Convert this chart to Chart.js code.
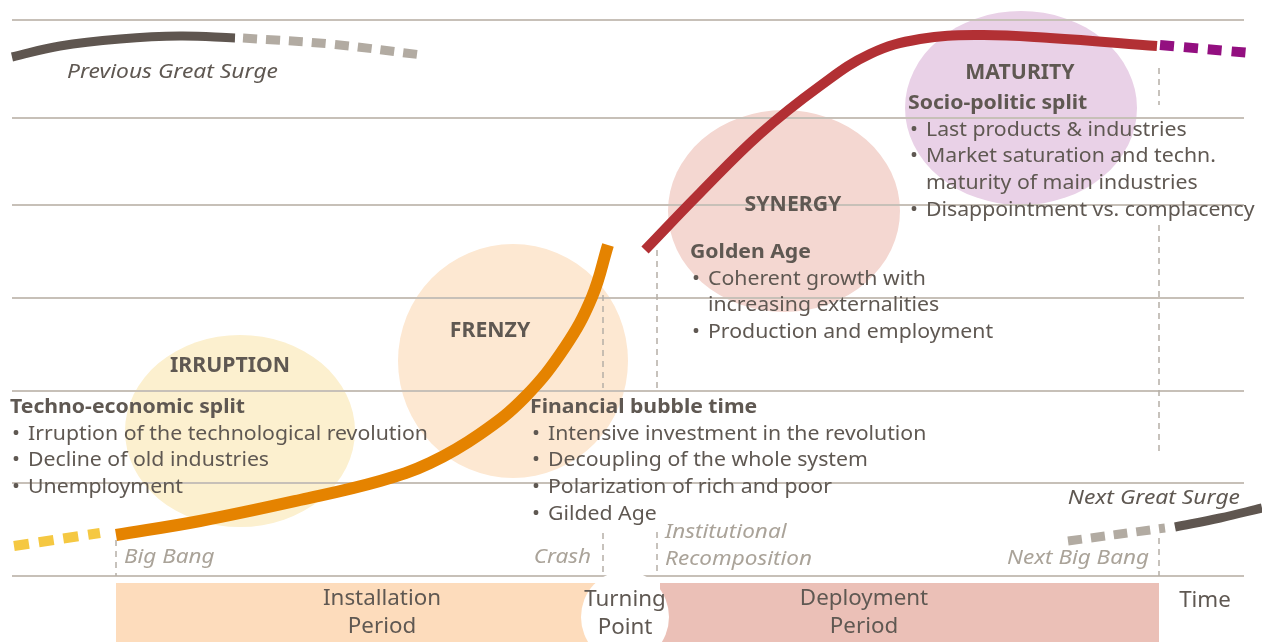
<!DOCTYPE html>
<html>
<head>
<meta charset="utf-8">
<script src="https://cdn.jsdelivr.net/npm/chart.js@4.4.1/dist/chart.umd.min.js"></script>
<style>
  html, body { margin: 0; padding: 0; background: #fff; }
  #wrap { width: 1262px; height: 642px; }
</style>
</head>
<body>
<div id="wrap"><canvas id="chartarea"></canvas></div>
<script>
// level lines across the diagram (y grows downward)
var gridLevels = [20, 118, 205, 298, 391, 483, 576];

// surge curves, [time, level]
var prevSurge     = [[12, 57], [60, 46], [120, 39], [180, 36], [235, 38]];
var prevSurgeTail = [[243, 38], [330, 44], [422, 55]];
var startLead     = [[14, 546], [100, 533]];
var installCurve  = [[116, 535], [200, 521], [300, 500], [380, 481], [430, 463], [480, 434], [525, 397], [565, 347], [592, 297], [608, 245]];
var deployCurve   = [[645, 250], [700, 193], [760, 134], [820, 86], [870, 54], [920, 39], [980, 35], [1050, 38], [1157, 46]];
var deployTail    = [[1160, 45], [1250, 53]];
var nextLead      = [[1068, 541], [1165, 528]];
var nextSurge     = [[1175, 527], [1220, 518], [1262, 508]];

// phases
var phaseNames = ['IRRUPTION', 'FRENZY', 'SYNERGY', 'MATURITY'];
var phaseX  = [240, 513, 784, 1021];
var phaseY  = [431, 361, 211, 108];
var phaseRx = [115, 115, 116, 116];
var phaseRy = [96, 117, 101, 97];
var phaseTitleX = [230, 490, 793, 1020];
var phaseTitleY = [366, 331, 205, 73];

var phaseHeadings = ['Techno-economic split', 'Financial bubble time', 'Golden Age', 'Socio-politic split'];
var headingX = [10, 530, 690, 908];
var headingY = [407, 407, 252, 103];
var phaseItems = [
  ['Irruption of the technological revolution', 'Decline of old industries', 'Unemployment'],
  ['Intensive investment in the revolution', 'Decoupling of the whole system', 'Polarization of rich and poor', 'Gilded Age'],
  ['Coherent growth with\nincreasing externalities', 'Production and employment'],
  ['Last products & industries', 'Market saturation and techn.\nmaturity of main industries', 'Disappointment vs. complacency']
];

// events on the time line
var eventNames = ['Big Bang', 'Crash', 'Institutional\nRecomposition', 'Next Big Bang'];
var eventX = [116, 603, 657, 1159];
var eventDashes = [
  [[540, 576]],
  [[295, 388], [533, 576]],
  [[250, 388], [532, 576]],
  [[68, 105], [225, 456], [538, 576]]
];

// periods
var periodNames = ['Installation\nPeriod', 'Deployment\nPeriod'];
var periodStart = [116, 660];
var periodEnd = [600, 1159];
var turningX = 625;

var surgeNames = ['Previous Great Surge', 'Next Great Surge'];

var phaseColors = ['#fcf0cf', '#fde8d2', '#f4d7d1', '#e9d1e7'];
var periodColors = ['#fddcbc', '#ebc0b7'];
var textDark = '#5f5852';
var textLight = '#aaa399';

function pts(a) {
  return a.map(function (p) { return { x: p[0], y: p[1] }; });
}

function curve(a, color, width, dash) {
  return {
    data: pts(a),
    borderColor: color,
    borderWidth: width,
    borderDash: dash || [],
    borderCapStyle: 'butt',
    pointRadius: 0,
    tension: 0.4,
    fill: false,
    clip: false
  };
}

var fitCache = {};
function drawFit(ctx, str, x, y, font, color, align, refStr, refWidth) {
  ctx.save();
  ctx.font = font;
  var key = font + refStr;
  if (!fitCache[key]) fitCache[key] = refWidth / ctx.measureText(refStr).width;
  var sx = fitCache[key];
  ctx.fillStyle = color;
  ctx.textBaseline = 'middle';
  ctx.textAlign = align;
  ctx.translate(x, y);
  ctx.scale(sx, 1);
  ctx.fillText(str, 0, 0);
  ctx.restore();
}

var FF = '"Noto Sans", "Open Sans", sans-serif';
var bodyFont = '20px ' + FF;
var boldFont = 'bold 20px ' + FF;
var titleFont = 'bold 21px ' + FF;
var italFont = 'italic 19px ' + FF;
var bandFont = '21px ' + FF;

var diagram = {
  id: 'diagram',
  beforeDraw: function (chart) {
    var ctx = chart.ctx, xs = chart.scales.x, ys = chart.scales.y;
    ctx.save();
    for (var i = 0; i < phaseNames.length; i++) {
      var cx = xs.getPixelForValue(phaseX[i]), cy = ys.getPixelForValue(phaseY[i]);
      var rx = xs.getPixelForValue(phaseX[i] + phaseRx[i]) - cx;
      var ry = ys.getPixelForValue(phaseY[i] + phaseRy[i]) - cy;
      ctx.fillStyle = phaseColors[i];
      ctx.beginPath();
      ctx.ellipse(cx, cy, Math.abs(rx), Math.abs(ry), 0, 0, Math.PI * 2);
      ctx.fill();
    }
    var top = ys.getPixelForValue(583), bottom = ys.getPixelForValue(642);
    for (var j = 0; j < periodNames.length; j++) {
      var x0 = xs.getPixelForValue(periodStart[j]), x1 = xs.getPixelForValue(periodEnd[j]);
      ctx.fillStyle = periodColors[j];
      ctx.fillRect(x0, top, x1 - x0, bottom - top);
    }
    ctx.restore();
  },
  beforeDatasetsDraw: function (chart) {
    var ctx = chart.ctx, xs = chart.scales.x, ys = chart.scales.y;
    var X = function (v) { return xs.getPixelForValue(v); };
    var Y = function (v) { return ys.getPixelForValue(v); };
    ctx.save();

    // turning point gap
    ctx.fillStyle = '#ffffff';
    ctx.beginPath();
    ctx.ellipse(X(turningX), Y(617), X(turningX + 44) - X(turningX), Math.abs(Y(617 + 46) - Y(617)), 0, 0, Math.PI * 2);
    ctx.fill();

    // event markers
    ctx.strokeStyle = '#b5aea6';
    ctx.lineWidth = 1.5;
    ctx.setLineDash([6, 5]);
    eventX.forEach(function (ex, i) {
      eventDashes[i].forEach(function (seg) {
        ctx.beginPath();
        ctx.moveTo(X(ex), Y(seg[0]));
        ctx.lineTo(X(ex), Y(seg[1]));
        ctx.stroke();
      });
    });
    ctx.setLineDash([]);

    var ref = 'Irruption of the technological revolution';
    // phase titles and descriptions
    phaseNames.forEach(function (name, i) {
      drawFit(ctx, name, X(phaseTitleX[i]), Y(phaseTitleY[i]), titleFont, textDark, 'center', 'IRRUPTION', 120);
      drawFit(ctx, phaseHeadings[i], X(headingX[i]), Y(headingY[i]), boldFont, textDark, 'left', 'Techno-economic split', 235);
      var row = 1;
      phaseItems[i].forEach(function (item) {
        item.split('\n').forEach(function (line, k) {
          var yy = Y(headingY[i] + row * 26.8);
          if (k === 0) drawFit(ctx, '\u2022', X(headingX[i] + 6), yy, bodyFont, textDark, 'center', ref, 400);
          drawFit(ctx, line, X(headingX[i] + 18), yy, bodyFont, textDark, 'left', ref, 400);
          row++;
        });
      });
    });

    // event labels
    drawFit(ctx, eventNames[0], X(eventX[0] + 8), Y(558), italFont, textLight, 'left', 'Recomposition', 147);
    drawFit(ctx, eventNames[1], X(eventX[1] - 12), Y(558), italFont, textLight, 'right', 'Recomposition', 147);
    eventNames[2].split('\n').forEach(function (line, k) {
      drawFit(ctx, line, X(eventX[2] + 8), Y(533 + k * 27), italFont, textLight, 'left', 'Recomposition', 147);
    });
    drawFit(ctx, eventNames[3], X(eventX[3] - 10), Y(559), italFont, textLight, 'right', 'Recomposition', 147);

    // surge labels
    drawFit(ctx, surgeNames[0], X(67), Y(73), italFont, textDark, 'left', 'Previous Great Surge', 211);
    drawFit(ctx, surgeNames[1], X(1240), Y(499), italFont, textDark, 'right', 'Previous Great Surge', 211);

    // period labels
    var centers = [382, 864];
    periodNames.forEach(function (name, i) {
      name.split('\n').forEach(function (line, k) {
        drawFit(ctx, line, X(centers[i]), Y(599 + k * 28.5), bandFont, textDark, 'center', 'Installation', 118);
      });
    });
    drawFit(ctx, 'Turning', X(turningX), Y(600), bandFont, textDark, 'center', 'Installation', 118);
    drawFit(ctx, 'Point', X(turningX), Y(628), bandFont, textDark, 'center', 'Installation', 118);
    drawFit(ctx, 'Time', X(1205), Y(601), bandFont, textDark, 'center', 'Installation', 118);

    ctx.restore();
  }
};

var ctx = document.getElementById('chartarea');

new Chart(ctx, {
  type: 'line',
  data: {
    datasets: [
      curve(prevSurge, '#5f5650', 9),
      curve(prevSurgeTail, '#b2aba2', 9, [14, 9]),
      curve(startLead, '#f5c842', 10, [15, 10]),
      curve(installCurve, '#e58300', 12),
      curve(deployCurve, '#b23034', 10),
      curve(deployTail, '#930f80', 10, [14, 10]),
      curve(nextLead, '#b2aba2', 9, [14, 9]),
      curve(nextSurge, '#5f5650', 9)
    ]
  },
  options: {
    animation: false,
    responsive: true,
    maintainAspectRatio: false,
    events: [],
    layout: { padding: { left: 12, right: 18, top: 0, bottom: 0 } },
    plugins: { legend: { display: false }, tooltip: { enabled: false } },
    scales: {
      x: { type: 'linear', min: 12, max: 1244, display: false },
      y: {
        type: 'linear', min: 0, max: 642, reverse: true,
        afterBuildTicks: function (axis) {
          axis.ticks = gridLevels.map(function (v) { return { value: v }; });
        },
        ticks: { display: false },
        border: { display: false },
        grid: { color: '#c7c0b8', lineWidth: 2, drawTicks: false }
      }
    }
  },
  plugins: [diagram]
});
</script>
</body>
</html>
